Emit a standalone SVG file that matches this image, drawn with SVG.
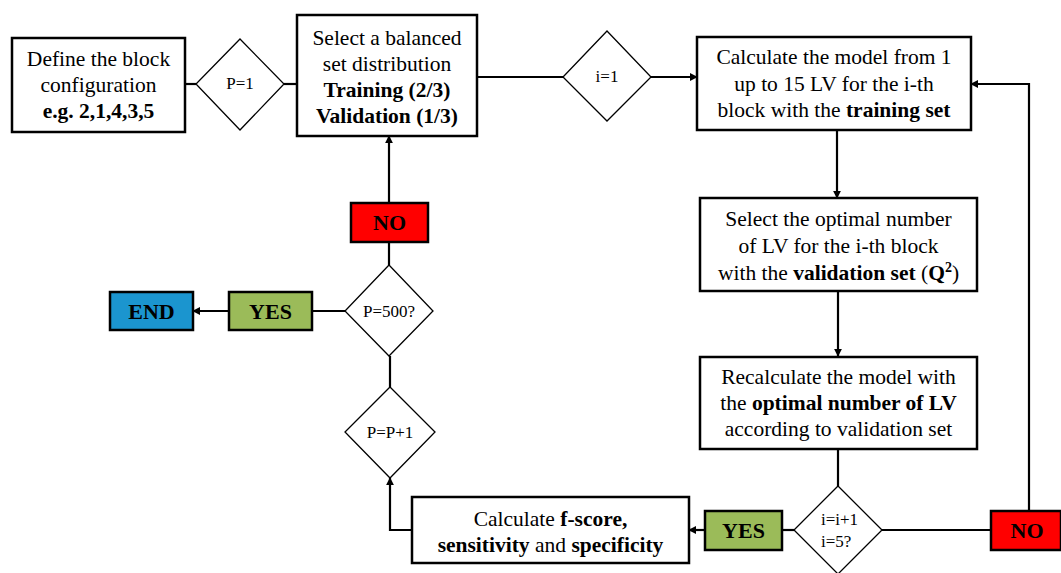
<svg xmlns="http://www.w3.org/2000/svg" width="1061" height="573" viewBox="0 0 1061 573">
<style>
.box{fill:#fff;stroke:#000;stroke-width:2.5}
.dia{fill:#fff;stroke:#000;stroke-width:1.3}
.red{fill:#FF0000;stroke:#000;stroke-width:2.5}
.green{fill:#9BBB59;stroke:#000;stroke-width:2.5}
.blue{fill:#1B95CF;stroke:#000;stroke-width:2.5}
.t{font-family:"Liberation Serif","Times New Roman",serif;font-size:21.5px;fill:#000;text-anchor:middle}
.d{font-family:"Liberation Serif","Times New Roman",serif;font-size:17px;fill:#000;text-anchor:middle}
.b{font-weight:bold}
.lbl{font-family:"Liberation Serif","Times New Roman",serif;font-size:22px;font-weight:bold;fill:#000;text-anchor:middle}
.c{fill:none;stroke:#000;stroke-width:2.2}
</style>
<defs>
<marker id="ah" viewBox="0 0 10 10" refX="9" refY="5" markerWidth="8" markerHeight="8" markerUnits="userSpaceOnUse" orient="auto">
<path d="M0,0 L10,5 L0,10 z" fill="#000"/>
</marker>
</defs>
<rect width="1061" height="573" fill="#fff"/>
<g id="connectors">
<line class="c" x1="185" y1="84" x2="196" y2="84"/>
<line class="c" x1="284" y1="84" x2="297" y2="84"/>
<line class="c" x1="477" y1="77" x2="563" y2="77"/>
<line class="c" x1="651" y1="77" x2="697" y2="77" marker-end="url(#ah)"/>
<line class="c" x1="837" y1="130" x2="837" y2="198" marker-end="url(#ah)"/>
<line class="c" x1="838" y1="291" x2="838" y2="356" marker-end="url(#ah)"/>
<line class="c" x1="838" y1="449" x2="838" y2="486"/>
<line class="c" x1="882" y1="530" x2="991" y2="530"/>
<polyline class="c" points="1029,510 1029,84 971,84" marker-end="url(#ah)"/>
<line class="c" x1="794" y1="530" x2="782" y2="530"/>
<line class="c" x1="705" y1="530" x2="689" y2="530" marker-end="url(#ah)"/>
<polyline class="c" points="412,530 390,530 390,478" marker-end="url(#ah)"/>
<line class="c" x1="390" y1="387" x2="390" y2="356"/>
<line class="c" x1="345" y1="311" x2="312" y2="311"/>
<line class="c" x1="229" y1="311" x2="193" y2="311" marker-end="url(#ah)"/>
<line class="c" x1="389" y1="265" x2="389" y2="242"/>
<line class="c" x1="389" y1="203" x2="389" y2="136" marker-end="url(#ah)"/>
</g>
<g id="define">
<rect class="box" x="12" y="38" width="173" height="94"/>
<text class="t" x="98.5" y="66">Define the block</text>
<text class="t" x="98.5" y="92">configuration</text>
<text class="t b" x="98.5" y="118">e.g. 2,1,4,3,5</text>
</g>
<g id="p1">
<polygon class="dia" points="240,39 284,84 240,130 196,84"/>
<text class="d" x="240" y="89">P=1</text>
</g>
<g id="select">
<rect class="box" x="297" y="15" width="180" height="121"/>
<text class="t" x="387" y="45">Select a balanced</text>
<text class="t" x="387" y="71">set distribution</text>
<text class="t b" x="387" y="97">Training (2/3)</text>
<text class="t b" x="387" y="123">Validation (1/3)</text>
</g>
<g id="i1">
<polygon class="dia" points="607,31 651,77 607,121 563,77"/>
<text class="d" x="607" y="82">i=1</text>
</g>
<g id="calc">
<rect class="box" x="697" y="37" width="274" height="93"/>
<text class="t" x="834" y="64">Calculate the model from 1</text>
<text class="t" x="834" y="91">up to 15 LV for the i-th</text>
<text class="t" x="834" y="117">block with the <tspan class="b">training set</tspan></text>
</g>
<g id="selectopt">
<rect class="box" x="700" y="198" width="277" height="93"/>
<text class="t" x="838.5" y="226">Select the optimal number</text>
<text class="t" x="838.5" y="253">of LV for the i-th block</text>
<text class="t" x="838.5" y="280">with the <tspan class="b">validation set</tspan> (<tspan class="b">Q</tspan><tspan class="b" font-size="14" dy="-8">2</tspan><tspan dy="8">)</tspan></text>
</g>
<g id="recalc">
<rect class="box" x="700" y="357" width="277" height="92"/>
<text class="t" x="838.5" y="384">Recalculate the model with</text>
<text class="t" x="838.5" y="410">the <tspan class="b">optimal number of LV</tspan></text>
<text class="t" x="838.5" y="436">according to validation set</text>
</g>
<g id="iinc">
<polygon class="dia" points="838,486 882,530 838,574 794,530"/>
<text class="d" x="821" y="525" style="text-anchor:start">i=i+1</text>
<text class="d" x="821" y="547" style="text-anchor:start">i=5?</text>
</g>
<g id="no2">
<rect class="red" x="991" y="511" width="70" height="39"/>
<text class="lbl" x="1027" y="538">NO</text>
</g>
<g id="yes2">
<rect class="green" x="705" y="511" width="77" height="39"/>
<text class="lbl" x="743.5" y="538">YES</text>
</g>
<g id="fscore">
<rect class="box" x="412" y="497" width="277" height="66"/>
<text class="t" x="550.5" y="526">Calculate <tspan class="b">f-score,</tspan></text>
<text class="t" x="550.5" y="552"><tspan class="b">sensitivity</tspan> and <tspan class="b">specificity</tspan></text>
</g>
<g id="pinc">
<polygon class="dia" points="390,387 435,432 390,478 345,432"/>
<text class="d" x="390" y="438">P=P+1</text>
</g>
<g id="p500">
<polygon class="dia" points="389,265 433,311 389,356 345,311"/>
<text class="d" x="389" y="317">P=500?</text>
</g>
<g id="no1">
<rect class="red" x="351" y="203" width="77" height="39"/>
<text class="lbl" x="389.5" y="230">NO</text>
</g>
<g id="yes1">
<rect class="green" x="229" y="292" width="83" height="38"/>
<text class="lbl" x="270.5" y="319">YES</text>
</g>
<g id="end">
<rect class="blue" x="110" y="292" width="83" height="38"/>
<text class="lbl" x="151.5" y="319">END</text>
</g>
</svg>
